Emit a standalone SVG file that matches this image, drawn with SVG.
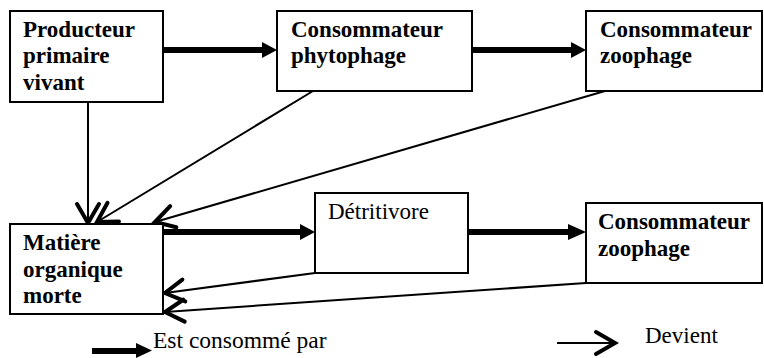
<svg xmlns="http://www.w3.org/2000/svg" width="764" height="358" viewBox="0 0 764 358">
<defs>
<marker id="chev" markerUnits="userSpaceOnUse" viewBox="-24 -15 28 30" markerWidth="28" markerHeight="30" refX="0" refY="0" orient="auto" overflow="visible">
<path d="M-19,-11 L0,0 L-19,11" fill="none" stroke="#000" stroke-width="4" stroke-linecap="round" stroke-linejoin="miter"/>
</marker>
</defs>
<rect width="764" height="358" fill="#fff"/>
<g id="connectors">
<g stroke="#000" stroke-width="6" fill="none">
<line x1="163" y1="50" x2="263" y2="50"/>
<line x1="472" y1="50" x2="572" y2="50"/>
<line x1="163" y1="232" x2="301" y2="232"/>
<line x1="468" y1="232" x2="569" y2="232"/>
<line x1="92" y1="351" x2="137" y2="351"/>
</g>
<g fill="#000">
<polygon points="262,42 277,50 262,58"/>
<polygon points="571,42 586,50 571,58"/>
<polygon points="300,224 315,232 300,240"/>
<polygon points="568,224 586,232 568,240"/>
<polygon points="136,343 152,350.5 136,358"/>
</g>
<g stroke="#000" stroke-width="2" fill="none" marker-end="url(#chev)">
<line x1="88" y1="102" x2="88" y2="223"/>
<line x1="313" y1="91" x2="97" y2="222"/>
<line x1="605" y1="91" x2="155" y2="222"/>
<line x1="315" y1="273" x2="165" y2="293"/>
<line x1="586" y1="283" x2="165" y2="312"/>
<line x1="557" y1="343" x2="615" y2="343"/>
</g>
</g>
<g fill="#fff" stroke="#000" stroke-width="2">
<rect id="r1" x="10" y="11" width="153" height="91"/>
<rect id="r2" x="277" y="11" width="195" height="80"/>
<rect id="r3" x="586" y="11" width="176" height="80"/>
<rect id="r4" x="10" y="224" width="153" height="90"/>
<rect id="r5" x="315" y="193" width="153" height="80"/>
<rect id="r6" x="586" y="203" width="176" height="80"/>
</g>
<g id="n1">
<text x="23" y="37" font-family="Liberation Serif" font-size="23" font-weight="bold">Producteur</text>
<text x="23" y="63" font-family="Liberation Serif" font-size="23" font-weight="bold">primaire</text>
<text x="23" y="90" font-family="Liberation Serif" font-size="23" font-weight="bold">vivant</text></g>
<g id="n2">
<text x="291" y="37" font-family="Liberation Serif" font-size="23" font-weight="bold">Consommateur</text>
<text x="291" y="63" font-family="Liberation Serif" font-size="23" font-weight="bold">phytophage</text></g>
<g id="n3">
<text x="600" y="37" font-family="Liberation Serif" font-size="23" font-weight="bold">Consommateur</text>
<text x="600" y="63" font-family="Liberation Serif" font-size="23" font-weight="bold">zoophage</text></g>
<g id="n4">
<text x="23" y="250" font-family="Liberation Serif" font-size="23" font-weight="bold">Matière</text>
<text x="23" y="277" font-family="Liberation Serif" font-size="23" font-weight="bold">organique</text>
<text x="23" y="303" font-family="Liberation Serif" font-size="23" font-weight="bold">morte</text></g>
<g id="n5">
<text x="328" y="219" font-family="Liberation Serif" font-size="23">Détritivore</text></g>
<g id="n6">
<text x="598" y="229" font-family="Liberation Serif" font-size="23" font-weight="bold">Consommateur</text>
<text x="598" y="256" font-family="Liberation Serif" font-size="23" font-weight="bold">zoophage</text></g>
<g id="legend">
<text x="153" y="348" font-family="Liberation Serif" font-size="23.5">Est consommé par</text>
<text x="645" y="343" font-family="Liberation Serif" font-size="23">Devient</text>
</g>
</svg>
